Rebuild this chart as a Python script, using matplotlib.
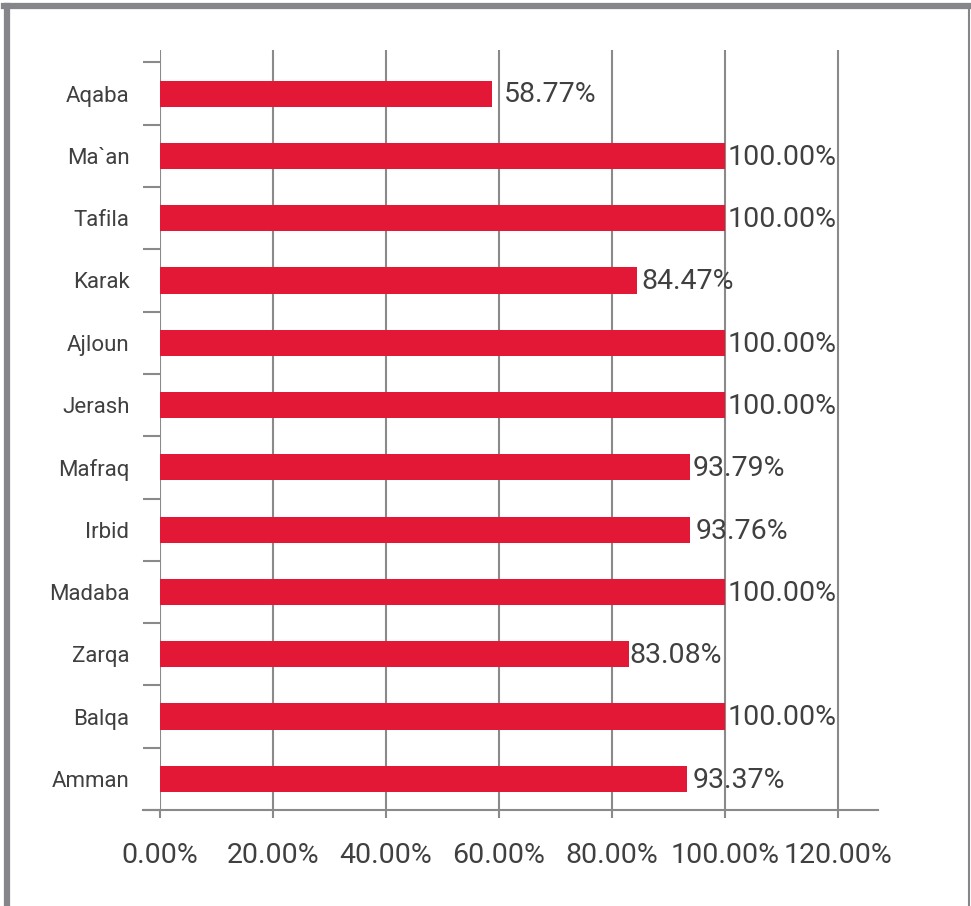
import matplotlib.pyplot as plt
from matplotlib.lines import Line2D
from matplotlib.ticker import FuncFormatter

plt.rcParams['font.family'] = ['Roboto', 'DejaVu Sans']

# Governorates, bottom to top as drawn
regions = ["Amman", "Balqa", "Zarqa", "Madaba", "Irbid", "Mafraq",
           "Jerash", "Ajloun", "Karak", "Tafila", "Ma`an", "Aqaba"]
shares = [93.37, 100.00, 83.08, 100.00, 93.76, 93.79,
          100.00, 100.00, 84.47, 100.00, 100.00, 58.77]
xticks = [0, 20, 40, 60, 80, 100, 120]

# gap between bar end and its label, in pixels
label_pad = [5, 3, 0, 3, 6, 3, 3, 3, 4, 3, 3, 12]

W, H = 971, 906
fig = plt.figure(figsize=(W / 100, H / 100), dpi=100)
ax = fig.add_axes([160 / W, 1 - 810 / H, (878 - 160) / W, (810 - 50) / H])

grey = "#8a8a8a"
red = "#e31837"
txt = "#404040"

ypos = list(range(len(regions)))
ax.barh(ypos, shares, height=0.42, color=red, zorder=3)

for y, v, p in zip(ypos, shares, label_pad):
    ax.annotate(f"{v:.2f}%", (v, y), xytext=(p * 0.72, -1), textcoords="offset points",
                ha="left", va="center", fontsize=20.5, color=txt, zorder=4)

ax.set_xlim(0, 127.1)
ax.set_ylim(-0.5, 11.7)

ax.set_xticks(xticks)
ax.xaxis.set_major_formatter(FuncFormatter(lambda v, _: f"{v:.2f}%"))
ax.tick_params(axis="x", length=6, width=1.5, color=grey, pad=17,
               labelsize=20.5, labelcolor=txt)

# category labels sit between boundary ticks
ax.set_yticks([i - 0.5 for i in range(len(regions) + 1)])
ax.set_yticklabels([])
ax.set_yticks(ypos, minor=True)
ax.set_yticklabels(regions, minor=True)
ax.tick_params(axis="y", which="major", length=12.5, width=1.5, color=grey)
ax.tick_params(axis="y", which="minor", length=0, pad=22, labelsize=16, labelcolor=txt)

ax.grid(axis="x", color=grey, linewidth=1.5, zorder=0)
for s in ["top", "right", "left"]:
    ax.spines[s].set_visible(False)
ax.spines["bottom"].set_color(grey)
ax.spines["bottom"].set_linewidth(1.5)
ax.spines["bottom"].set_zorder(5)

# bottom axis line runs out under the tick column on the left
fig.add_artist(Line2D([143 / W, 160 / W], [1 - 810 / H, 1 - 810 / H],
                      color=grey, linewidth=1.5))

# outer frame
frame = "#86868a"
fig.add_artist(Line2D([7 / W, 7 / W], [0, 1 - 6 / H], color=frame, linewidth=4.5))
fig.add_artist(Line2D([4 / W, 970 / W], [1 - 6 / H, 1 - 6 / H], color=frame, linewidth=4.5))
fig.add_artist(Line2D([969 / W, 969 / W], [0, 1 - 6 / H], color=frame, linewidth=1.5))

fig.savefig("out.png", dpi=100)
